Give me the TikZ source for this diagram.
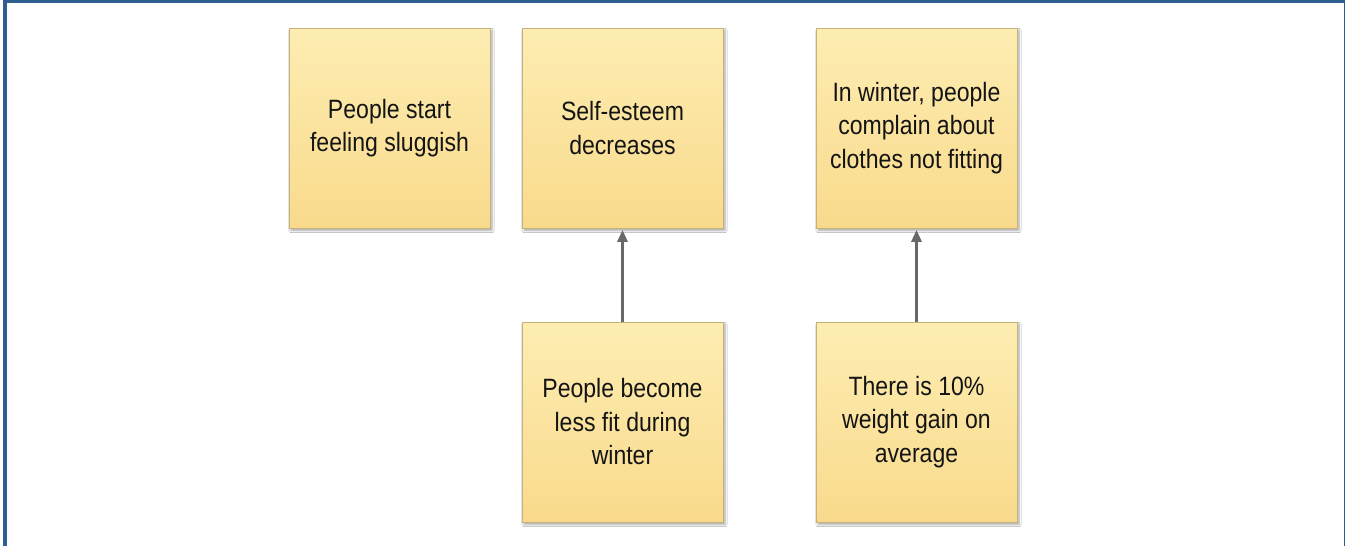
\documentclass[tikz,border=0pt]{standalone}
\usepackage{fontspec}
\setmainfont{Liberation Sans}[FakeStretch=0.87]
\usetikzlibrary{arrows.meta,shadows.blur}
\definecolor{framebl}{RGB}{47,94,145}
\definecolor{notetop}{RGB}{253,237,178}
\definecolor{notebot}{RGB}{249,218,140}
\definecolor{noteedge}{RGB}{196,178,122}
\definecolor{arrowgr}{RGB}{105,105,105}
\definecolor{inktext}{RGB}{20,20,20}
\tikzset{
  note/.style={
    rectangle, minimum width=201pt, minimum height=200pt,
    top color=notetop, bottom color=notebot,
    draw=noteedge, line width=0.8pt,
    blur shadow={shadow xshift=2pt, shadow yshift=-2.5pt,
                 shadow blur steps=6, shadow opacity=35},
    align=center, text=inktext,
    font=\fontsize{26.5pt}{33.5pt}\selectfont, inner sep=0pt
  },
  link/.style={draw=arrowgr, line width=3pt,
    -{Triangle[length=12pt,width=10pt]}, shorten >=1.5pt}
}
\begin{document}
\begin{tikzpicture}[x=1pt,y=-1pt]
  \useasboundingbox (0,0) rectangle (1345,546);
  \begin{scope}
    \clip (0,0) rectangle (1345,546);
    \fill[white] (0,0) rectangle (1345,546);
    \draw[framebl, line width=4pt] (4.5,0.5) rectangle (1345.5,560);
  \end{scope}

  % upper row
  \node[note] (sluggish) at (389.5,128) {People start\\feeling sluggish};
  \node[note] (esteem)   at (622.5,128) {Self-esteem\\decreases};
  \node[note] (clothes)  at (916.5,128) {In winter, people\\complain about\\clothes not fitting};

  % lower row
  \node[note] (lessfit)  at (622.5,422) {People become\\less fit during\\winter};
  \node[note] (weight)   at (916.5,422) {There is 10\%\\weight gain on\\average};

  % causal links
  \draw[link] (lessfit.north) -- (esteem.south);
  \draw[link] (weight.north) -- (clothes.south);
\end{tikzpicture}
\end{document}
